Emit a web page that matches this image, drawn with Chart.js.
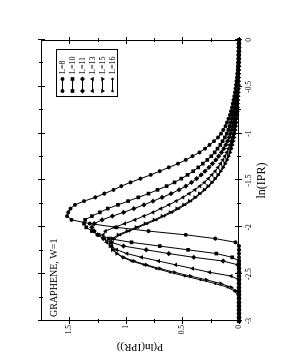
<!DOCTYPE html>
<html><head><meta charset="utf-8">
<script src="https://cdn.jsdelivr.net/npm/chart.js@4"></script>
<style>
html,body{margin:0;padding:0;background:#fff;overflow:hidden;width:281px;height:363px;}
#wrap{position:absolute;left:0;top:0;width:363px;height:281px;transform-origin:0 0;transform:translate(0,363px) rotate(-90deg);}
canvas{display:block}
</style></head><body>
<div id="wrap"><canvas id="c" width="363" height="281"></canvas></div>
<script>
// ---- data ----
const lnIPR = [-3,-2.96,-2.92,-2.88,-2.84,-2.8,-2.76,-2.72,-2.68,-2.64,-2.6,-2.56,-2.52,-2.48,-2.44,-2.4,-2.36,-2.32,-2.28,-2.24,-2.2,-2.16,-2.12,-2.08,-2.04,-2,-1.96,-1.92,-1.88,-1.84,-1.8,-1.76,-1.72,-1.68,-1.64,-1.6,-1.56,-1.52,-1.48,-1.44,-1.4,-1.36,-1.32,-1.28,-1.24,-1.2,-1.16,-1.12,-1.08,-1.04,-1,-0.96,-0.92,-0.88,-0.84,-0.8,-0.76,-0.72,-0.68,-0.64,-0.6,-0.56,-0.52,-0.48,-0.44,-0.4,-0.36,-0.32,-0.28,-0.24,-0.2,-0.16,-0.12,-0.08,-0.04,0];

const L8 = [0,0,0,0,0,0,0,0,0,0,0,0,0,0,0,0,0,0,0,0,0,
 0.03,0.21,0.47,0.80,1.08,1.32,1.48,1.52,1.51,1.49,
 1.45,1.37,1.27,1.19,1.11,1.04,0.96,0.87,0.78,0.70,
 0.62,0.54,0.47,0.41,0.35,0.30,0.26,0.22,0.185,0.16,
 0.14,0.12,0.105,0.092,0.08,0.07,0.062,0.055,0.048,0.042,
 0.036,0.031,0.026,0.022,0.018,0.015,0.012,0.009,0.007,0.005,
 0.004,0.003,0.002,0.001,0];

const L10 = [0,0,0,0,0,0,0,0,0,0,0,0,0,0,0,0,0,
 0.06,0.20,0.45,0.70,0.95,1.15,1.24,1.30,1.35,1.37,
 1.36,1.30,1.23,1.16,1.07,0.98,0.89,0.80,0.72,0.64,
 0.57,0.51,0.455,0.405,0.36,0.32,0.28,0.245,0.215,0.19,
 0.165,0.145,0.125,0.108,0.094,0.082,0.071,0.062,0.054,0.047,
 0.041,0.035,0.030,0.026,0.022,0.019,0.016,0.013,0.011,0.009,
 0.007,0.006,0.004,0.003,0.002,0.002,0.001,0.001,0];

const L11 = [0,0,0,0,0,0,0,0,0,0,0,0,0,0,0,
 0.01,0.14,0.40,0.62,0.82,1.02,1.13,1.20,1.25,1.28,
 1.30,1.28,1.21,1.12,1.02,0.93,0.84,0.76,0.68,0.60,
 0.53,0.47,0.42,0.375,0.335,0.30,0.265,0.235,0.205,0.18,
 0.155,0.135,0.117,0.10,0.087,0.075,0.065,0.056,0.048,0.041,
 0.035,0.030,0.026,0.022,0.019,0.016,0.014,0.012,0.010,0.008,
 0.007,0.006,0.005,0.004,0.003,0.002,0.002,0.001,0.001,0.001,0];

const L13 = [0,0,0,0,0,0,0,0,0,0,0,0,
 0.07,0.26,0.41,0.56,0.71,0.86,0.99,1.08,1.13,1.17,
 1.19,1.20,1.18,1.10,1.01,0.92,0.84,0.76,0.69,0.62,
 0.555,0.495,0.44,0.39,0.345,0.305,0.27,0.24,0.21,0.185,
 0.162,0.142,0.124,0.108,0.094,0.082,0.071,0.062,0.054,0.047,
 0.041,0.035,0.030,0.026,0.022,0.019,0.016,0.014,0.012,0.010,
 0.008,0.007,0.006,0.005,0.004,0.003,0.002,0.002,0.001,0.001,0.001,0,0,0];

const L15 = [0,0,0,0,0,0,0,0,
 0.025,0.07,0.16,0.29,0.43,0.57,0.70,0.82,0.93,1.02,
 1.08,1.12,1.14,1.14,1.12,1.07,0.99,0.91,0.83,0.75,
 0.68,0.61,0.55,0.49,0.44,0.39,0.35,0.31,0.275,0.243,
 0.213,0.187,0.164,0.143,0.125,0.108,0.094,0.081,0.07,0.06,
 0.052,0.045,0.039,0.033,0.028,0.024,0.021,0.018,0.015,0.013,
 0.011,0.009,0.007,0.006,0.005,0.004,0.003,0.003,0.002,0.002,
 0.001,0.001,0.001,0,0,0,0,0];

const L16 = [0,0,0,0,0,0,0,
 0.01,0.04,0.10,0.21,0.34,0.48,0.61,0.73,0.84,0.95,
 1.03,1.08,1.11,1.12,1.12,1.10,1.05,0.97,0.89,0.81,
 0.73,0.66,0.59,0.53,0.475,0.425,0.38,0.34,0.30,0.265,
 0.235,0.205,0.18,0.158,0.138,0.12,0.104,0.09,0.078,0.067,
 0.058,0.05,0.043,0.037,0.032,0.027,0.023,0.020,0.017,0.014,
 0.012,0.010,0.008,0.007,0.006,0.005,0.004,0.003,0.002,0.002,
 0.001,0.001,0.001,0,0,0,0,0,0];

const seriesLabels = ['L=8','L=10','L=11','L=13','L=15','L=16'];
const seriesValues = [L8, L10, L11, L13, L15, L16];
const xMajorTicks = [-3,-2.5,-2,-1.5,-1,-0.5,0];
const xMinorTicks = [-2.75,-2.25,-1.75,-1.25,-0.75,-0.25];
const yMajorTicks = [0,0.5,1,1.5];
const yMinorTicks = [0.25,0.75,1.25];
const xTitle = 'ln(IPR)';
const yTitle = 'P(ln(IPR))';
const noteText = 'GRAPHENE, W=1';

// ---- styles ----
const FONT = "'Liberation Serif','DejaVu Serif',serif";
const markers = [
  {pointStyle:'circle', radius:2, rotation:0},
  {pointStyle:'rect', radius:2.6, rotation:0},
  {pointStyle:'rectRot', radius:2.6, rotation:0},
  {pointStyle:'triangle', radius:2.6, rotation:0},
  {pointStyle:'triangle', radius:2.6, rotation:180},
  {pointStyle:'circle', radius:1.3, rotation:0}
];

Chart.defaults.font.family = FONT;
Chart.defaults.color = '#000';

const datasets = seriesValues.map((arr, i) => ({
  label: seriesLabels[i],
  data: lnIPR.map((x, j) => ({x: x, y: arr[j]})),
  borderColor: '#000',
  backgroundColor: '#000',
  borderWidth: 1,
  pointStyle: markers[i].pointStyle,
  pointRadius: markers[i].radius,
  pointRotation: markers[i].rotation,
  pointBackgroundColor: '#000',
  pointBorderWidth: 0,
  tension: 0,
  clip: false
}));

function drawMarker(ctx, m, x, y) {
  ctx.fillStyle = '#000';
  ctx.strokeStyle = '#000';
  if (Chart.helpers && Chart.helpers.drawPoint) {
    Chart.helpers.drawPoint(ctx, {pointStyle: m.pointStyle, rotation: m.rotation, radius: m.radius, borderWidth: 0}, x, y);
  } else {
    ctx.beginPath(); ctx.arc(x, y, m.radius, 0, Math.PI*2); ctx.fill();
  }
}

const decor = {
  id: 'decor',
  afterDatasetsDraw(chart) {
    const {ctx, chartArea: a, scales: {x, y}} = chart;
    ctx.save();
    ctx.strokeStyle = '#000';
    ctx.lineWidth = 1;
    // frame
    ctx.strokeRect(a.left + 0.5, a.top + 0.5, a.right - a.left - 1, a.bottom - a.top - 1);
    const tick = (v, axis, inL, outL) => {
      ctx.beginPath();
      if (axis === 'x') {
        const p = Math.round(x.getPixelForValue(v)) + 0.5;
        ctx.moveTo(p, a.bottom - inL); ctx.lineTo(p, a.bottom + outL);
        ctx.moveTo(p, a.top - outL); ctx.lineTo(p, a.top + inL);
      } else {
        const p = Math.round(y.getPixelForValue(v)) + 0.5;
        ctx.moveTo(a.left - outL, p); ctx.lineTo(a.left + inL, p);
        ctx.moveTo(a.right - inL, p); ctx.lineTo(a.right + outL, p);
      }
      ctx.stroke();
    };
    xMajorTicks.forEach(v => tick(v, 'x', 4, 3));
    xMinorTicks.forEach(v => tick(v, 'x', 2, 2));
    yMajorTicks.forEach(v => tick(v, 'y', 4, 3));
    yMinorTicks.forEach(v => tick(v, 'y', 2, 2));

    // annotation
    ctx.fillStyle = '#000';
    ctx.font = "10px " + FONT;
    ctx.textBaseline = 'alphabetic';
    ctx.textAlign = 'left';
    ctx.fillText(noteText, a.left + 4, a.top + 16);

    // legend
    const bx = a.right - 57, by = a.top + 15, bw = 47, bh = 61;
    ctx.fillStyle = '#fff';
    ctx.fillRect(bx, by, bw, bh);
    ctx.strokeRect(bx + 0.5, by + 0.5, bw, bh);
    ctx.font = "8px " + FONT;
    ctx.textBaseline = 'middle';
    seriesLabels.forEach((lab, i) => {
      const yy = by + 6.5 + i * 10;
      ctx.beginPath();
      ctx.moveTo(bx + 6, yy); ctx.lineTo(bx + 18, yy);
      ctx.stroke();
      drawMarker(ctx, markers[i], bx + 6, yy);
      drawMarker(ctx, markers[i], bx + 18, yy);
      ctx.fillStyle = '#000';
      ctx.fillText(lab, bx + 23, yy + 0.5);
    });
    ctx.restore();
  }
};

new Chart(document.getElementById('c'), {
  type: 'line',
  data: {datasets},
  options: {
    responsive: false,
    animation: false,
    events: [],
    devicePixelRatio: 1,
    layout: {padding: {top: 41, right: 40, bottom: 0, left: 0}},
    plugins: {legend: {display: false}, tooltip: {enabled: false}},
    scales: {
      x: {
        type: 'linear', min: -3, max: 0,
        afterBuildTicks: s => { s.ticks = xMajorTicks.map(v => ({value: v})); },
        afterFit: s => { s.height = 42; },
        grid: {display: false, drawTicks: false},
        border: {display: false},
        ticks: {autoSkip: false, maxRotation: 0, padding: 6, font: {size: 7.5, family: FONT}, color: '#000', callback: v => String(v)},
        title: {display: true, text: xTitle, font: {size: 12, family: FONT}, color: '#000', padding: {top: 0, bottom: 12}}
      },
      y: {
        type: 'linear', min: 0, max: 1.75,
        afterBuildTicks: s => { s.ticks = yMajorTicks.map(v => ({value: v})); },
        afterFit: s => { s.width = 42; },
        grid: {display: false, drawTicks: false},
        border: {display: false},
        ticks: {autoSkip: false, padding: 4, font: {size: 7.5, family: FONT}, color: '#000', callback: v => String(v)},
        title: {display: true, text: yTitle, font: {size: 11, family: FONT}, color: '#000', padding: {top: 10, bottom: 0}}
      }
    }
  },
  plugins: [decor]
});
</script>
</body></html>
